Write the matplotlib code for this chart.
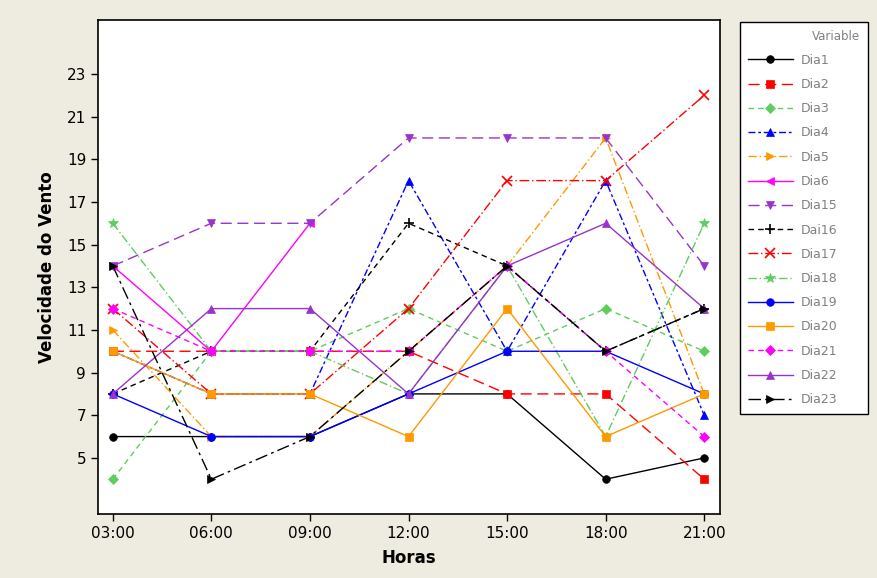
import numpy as np
import matplotlib
matplotlib.use("Agg")
import matplotlib.pyplot as plt

nan = np.nan

# horas do dia e velocidade do vento por dia
horas = ["03:00", "06:00", "09:00", "12:00", "15:00", "18:00", "21:00"]

dia1 = [6, 6, 6, 8, 8, 4, 5]
dia2 = [10, 10, 10, 10, 8, 8, 4]
dia3 = [4, 10, 10, 12, 10, 12, 10]
dia4 = [10, 8, 8, 18, 10, 18, 7]
dia5 = [11, 6, 6, 10, 14, 20, 8]
dia6 = [14, 10, 16, nan, nan, nan, nan]
dia15 = [14, 16, 16, 20, 20, 20, 14]
dia16 = [8, 10, 10, 16, 14, 10, 12]
dia17 = [12, 8, 8, 12, 18, 18, 22]
dia18 = [16, 10, 10, 8, 14, 6, 16]
dia19 = [8, 6, 6, 8, 10, 10, 8]
dia20 = [10, 8, 8, 6, 12, 6, 8]
dia21 = [12, 10, 10, 10, 14, 10, 6]
dia22 = [8, 12, 12, 8, 14, 16, 12]
dia23 = [14, 4, 6, 10, 14, 10, 12]

nomes = ["Dia1", "Dia2", "Dia3", "Dia4", "Dia5", "Dia6", "Dia15", "Dai16",
         "Dia17", "Dia18", "Dia19", "Dia20", "Dia21", "Dia22", "Dia23"]
series = [dia1, dia2, dia3, dia4, dia5, dia6, dia15, dia16,
          dia17, dia18, dia19, dia20, dia21, dia22, dia23]

# estilos tipo Minitab
verde = "#5FCC5F"
laranja = "#FF9900"
roxo = "#9933CC"
estilos = [
    ("black", "-", "o"),
    ("red", (0, (8, 4)), "s"),
    (verde, (0, (4, 3)), "D"),
    ("blue", (0, (5, 2, 2, 2)), "^"),
    (laranja, (0, (6, 2, 1, 2)), ">"),
    ("magenta", "-", "<"),
    (roxo, (0, (8, 4)), "v"),
    ("black", (0, (4, 3)), "+"),
    ("red", (0, (7, 2, 1, 2)), "x"),
    (verde, (0, (6, 2, 1, 2)), "*"),
    ("blue", "-", "o"),
    (laranja, "-", "s"),
    ("magenta", (0, (4, 3)), "D"),
    (roxo, "-", "^"),
    ("black", (0, (9, 3, 2, 3)), ">"),
]

fundo = "#EEEBE0"
fig = plt.figure(figsize=(8.78, 5.78), dpi=100, facecolor=fundo)
ax = fig.add_axes([98/878, 1 - 514/578, (720-98)/878, (514-20)/578])
ax.set_facecolor("white")

x = np.arange(len(horas))
for nome, y, (cor, ls, mk) in zip(nomes, series, estilos):
    ax.plot(x, y, color=cor, linestyle=ls, linewidth=1.0, marker=mk,
            markersize=5.5 if mk not in ("+", "x", "*") else 7,
            markeredgewidth=1.2 if mk in ("+", "x") else 0.5,
            markeredgecolor=cor, label=nome)

ax.set_xlim(-0.15, 6.16)
ax.set_ylim(2.37, 25.53)
ax.set_xticks(x)
ax.set_xticklabels(horas)
ax.set_yticks(np.arange(5, 24, 2))
ax.tick_params(direction="out", length=5, labelsize=11, width=1)
for s in ax.spines.values():
    s.set_linewidth(1.2)

ax.set_xlabel("Horas", fontsize=12, fontweight="bold", labelpad=6)
ax.set_ylabel("Velocidade do Vento", fontsize=12, fontweight="bold", labelpad=8)

leg = ax.legend(loc="upper left",
                bbox_to_anchor=(740/878, 1 - 412/578, 128/878, 390/578),
                bbox_transform=fig.transFigure, mode="expand", title="Variable",
                fontsize=9, title_fontsize=8.5, frameon=True, fancybox=False,
                edgecolor="black", facecolor="white", framealpha=1,
                handlelength=3.6, handletextpad=0.7, labelspacing=0.9,
                borderpad=0.6, borderaxespad=0)
leg.get_frame().set_linewidth(1.0)
leg.get_title().set_color("#808080")
leg._legend_box.align = "right"
for t in leg.get_texts():
    t.set_color("#808080")

fig.savefig("out.png", dpi=100, facecolor=fundo)
